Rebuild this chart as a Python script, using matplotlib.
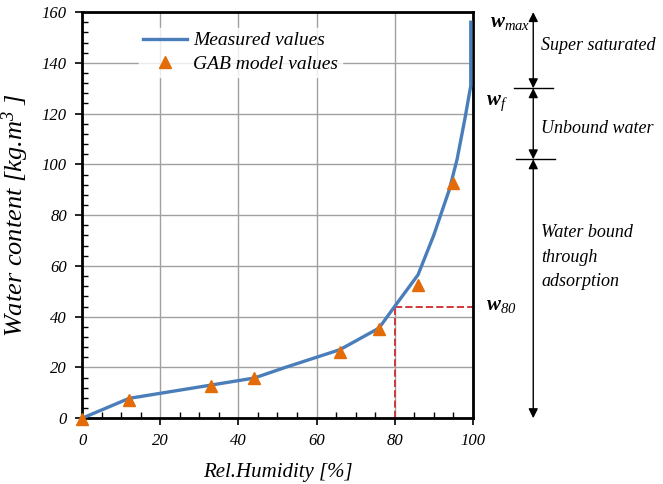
import matplotlib
matplotlib.use("Agg")
import matplotlib.pyplot as plt
from matplotlib.ticker import MultipleLocator

plt.rcParams['font.family'] = ['Liberation Serif', 'DejaVu Serif']
plt.rcParams['font.style'] = 'italic'
plt.rcParams['mathtext.fontset'] = 'custom'
plt.rcParams['mathtext.rm'] = 'Liberation Serif:italic'
plt.rcParams['mathtext.it'] = 'Liberation Serif:italic'
plt.rcParams['mathtext.bf'] = 'Liberation Serif:bold:italic'

# Courbe mesurée
rh_mes = [0, 12, 44, 52, 66, 76, 80, 86, 90, 94, 96, 98, 99.5, 99.5]
w_mes = [0, 7.8, 15.8, 20, 27, 35.5, 44, 56.5, 72, 90, 102, 118, 131, 156]

# Modèle GAB
rh_gab = [0, 12, 33, 44, 66, 76, 86, 95]
w_gab = [-0.5, 7.2, 12.7, 16, 26, 35, 52.5, 92.5]

# Niveaux de teneur en eau
w80 = 44
wf = 130
wlim = 102
wmax = 160

bleu = '#4A7EBB'
orange = '#E36C09'

fig = plt.figure(figsize=(6.63, 4.84), dpi=100)
ax = fig.add_axes([0.124, 0.136, 0.589, 0.839])

ax.plot(rh_mes, w_mes, color=bleu, lw=2.4, label='Measured values', zorder=3)
ax.plot(rh_gab, w_gab, '^', color=orange, ms=8.5, label='GAB model values', zorder=4, clip_on=False)

# repère w80
ax.plot([80, 80], [0, w80], '--', color='#D0393B', lw=1.4, zorder=2)
ax.plot([80, 100], [w80, w80], '--', color='#D0393B', lw=1.4, zorder=2)

ax.set_xlim(0, 100)
ax.set_ylim(0, 160)
ax.xaxis.set_major_locator(MultipleLocator(20))
ax.xaxis.set_minor_locator(MultipleLocator(5))
ax.yaxis.set_major_locator(MultipleLocator(20))
ax.yaxis.set_minor_locator(MultipleLocator(4))
ax.tick_params(which='major', direction='out', length=5, width=1.2, labelsize=12, pad=6)
ax.tick_params(which='minor', direction='in', length=4, width=1)
ax.grid(True, which='major', color='#A0A0A0', lw=1)
for sp in ax.spines.values():
    sp.set_linewidth(2)
ax.set_axisbelow(True)

ax.set_xlabel('Rel.Humidity [%]', fontsize=15, labelpad=10)
ax.set_ylabel(r'Water content [kg.m$^{3}$ ]', fontsize=19, labelpad=8)

leg = ax.legend(loc='upper left', bbox_to_anchor=(0.12, 0.985), frameon=True,
                fontsize=14, handlelength=2.3, borderpad=0.2, labelspacing=0.3,
                handletextpad=0.3)
leg.get_frame().set_facecolor('white')
leg.get_frame().set_edgecolor('white')

# flèches des domaines
xa = 115.5
for y0, y1 in [(wf, wmax), (wlim, wf), (0, wlim)]:
    ax.annotate('', xy=(xa, y1), xytext=(xa, y0), xycoords='data',
                arrowprops=dict(arrowstyle='<|-|>', color='black', lw=1,
                                mutation_scale=14, shrinkA=0, shrinkB=0),
                annotation_clip=False)
ax.plot([110.5, 120.5], [wf, wf], color='black', lw=1, clip_on=False)
ax.plot([111, 121], [wlim, wlim], color='black', lw=1, clip_on=False)

ax.text(104.5, 156, r'$\mathbf{w}_{max}$', fontsize=15, ha='left', va='center', clip_on=False)
ax.text(103.5, 124, r'$\mathbf{w}_{f}$', fontsize=15, ha='left', va='center', clip_on=False)
ax.text(103.5, 44.5, r'$\mathbf{w}_{80}$', fontsize=15, ha='left', va='center', clip_on=False)
ax.text(117.5, 147, 'Super saturated', fontsize=13, ha='left', va='center')
ax.text(117.5, 114, 'Unbound water', fontsize=13, ha='left', va='center')
ax.text(117.5, 63.5, 'Water bound\nthrough\nadsorption', fontsize=13, ha='left', va='center',
        linespacing=1.6)

fig.savefig('out.png', dpi=100)
